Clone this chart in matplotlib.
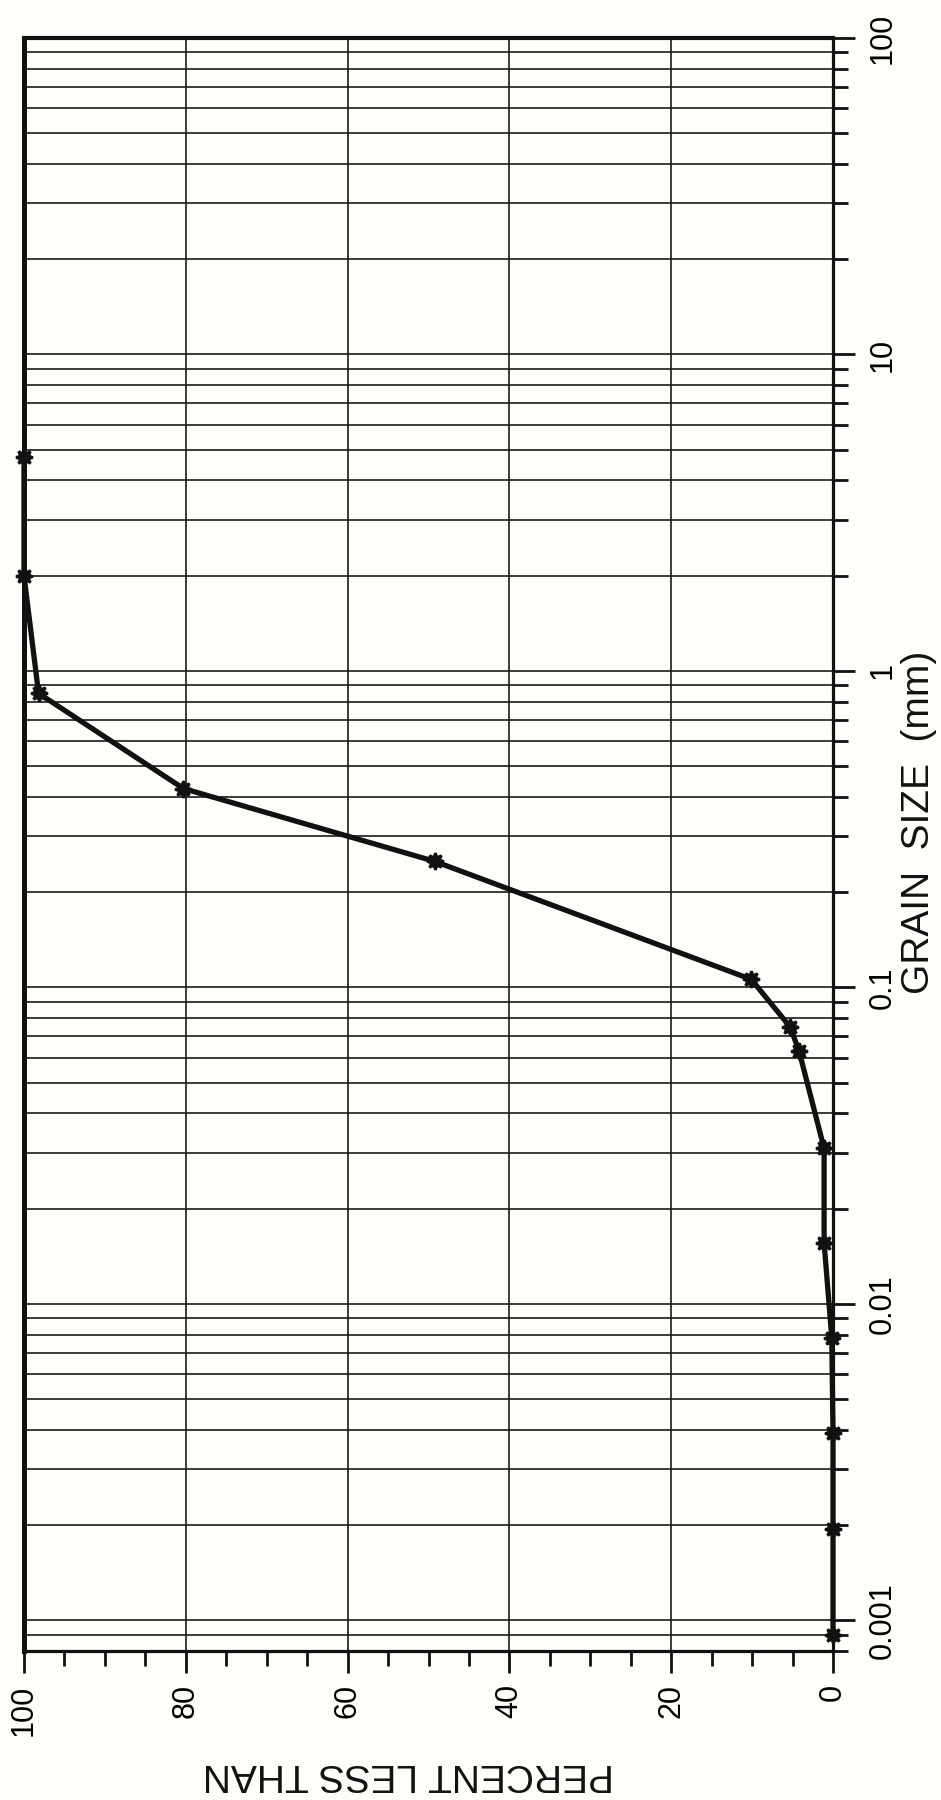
import matplotlib
matplotlib.use('Agg')
import matplotlib.pyplot as plt
from matplotlib.ticker import FixedLocator, NullFormatter

# grain size (mm) vs cumulative percent finer
grain_mm = [4.75, 2.0, 0.85, 0.425, 0.25, 0.106, 0.075, 0.063,
            0.031, 0.0156, 0.0078, 0.0039, 0.00195, 0.0009]
percent_less = [100, 100, 98.2, 80.3, 49.2, 10.1, 5.3, 4.2,
                1.1, 1.1, 0.15, 0, 0, 0]

size_ticks = [0.001, 0.01, 0.1, 1, 10, 100]
size_labels = ['0.001', '0.01', '0.1', '1', '10', '100']
pct_ticks = [0, 20, 40, 60, 80, 100]
pct_labels = ['0', '20', '40', '60', '80', '100']

plt.rcParams['font.family'] = ['Liberation Sans', 'DejaVu Sans']
bg = '#fdfdf9'
ink = '#111111'

fig = plt.figure(figsize=(9.41, 18), dpi=100, facecolor=bg)
# chart is drawn "sideways": percent runs left->right (100..0), size runs bottom->top
ax = fig.add_axes([24 / 941, 1 - 1651 / 1800, (833 - 24) / 941, (1651 - 38) / 1800])
ax.set_facecolor(bg)

ax.plot(percent_less, grain_mm, color=ink, lw=3.8, marker=(8, 1, 0),
        markersize=12, markeredgewidth=2, clip_on=False, zorder=5)

ax.set_yscale('log')
ax.set_ylim(0.0008, 100)
ax.set_xlim(100, 0)

# log grid lines: every 1..9 in each decade
minor_sizes = [k * 10.0 ** n for n in range(-4, 2) for k in range(2, 10)]
minor_sizes = [v for v in minor_sizes if 0.0008 <= v <= 100]
ax.yaxis.set_major_locator(FixedLocator(size_ticks))
ax.yaxis.set_minor_locator(FixedLocator(minor_sizes))
ax.set_yticklabels(size_labels)
ax.yaxis.set_minor_formatter(NullFormatter())
ax.yaxis.tick_right()

ax.xaxis.set_major_locator(FixedLocator(pct_ticks))
ax.xaxis.set_minor_locator(FixedLocator([p for p in range(5, 100, 5) if p % 20]))
ax.set_xticklabels(pct_labels)

ax.grid(which='both', axis='y', color='#1a1a1a', lw=1.2)
ax.grid(which='major', axis='x', color='#1a1a1a', lw=1.2)

ax.tick_params(which='major', length=16, width=2, direction='out', color=ink)
ax.tick_params(which='minor', length=10.5, width=2, direction='out', color=ink)
ax.tick_params(axis='y', which='major', pad=9, labelsize=22, labelrotation=90)
ax.tick_params(axis='x', which='major', pad=8, labelsize=22, labelrotation=90)
for lab in ax.get_yticklabels():
    lab.set_va('center')
    lab.set_ha('left')
for lab in ax.get_xticklabels():
    lab.set_va('top')
    lab.set_ha('center')

ax.spines['left'].set_linewidth(3.6)
ax.spines['top'].set_linewidth(3.0)
ax.spines['right'].set_linewidth(2.3)
ax.spines['bottom'].set_linewidth(2.3)
for s in ax.spines.values():
    s.set_color(ink)
    s.set_zorder(6)

fig.text(919 / 941, 1 - 822 / 1800, 'GRAIN  SIZE  (mm)', rotation=90,
         ha='center', va='center', fontsize=28, color=ink)
fig.text(408 / 941, 1 - 1774 / 1800, 'PERCENT LESS THAN', rotation=180,
         ha='center', va='center', fontsize=28, color=ink)

fig.savefig('out.png', dpi=100, facecolor=bg)
